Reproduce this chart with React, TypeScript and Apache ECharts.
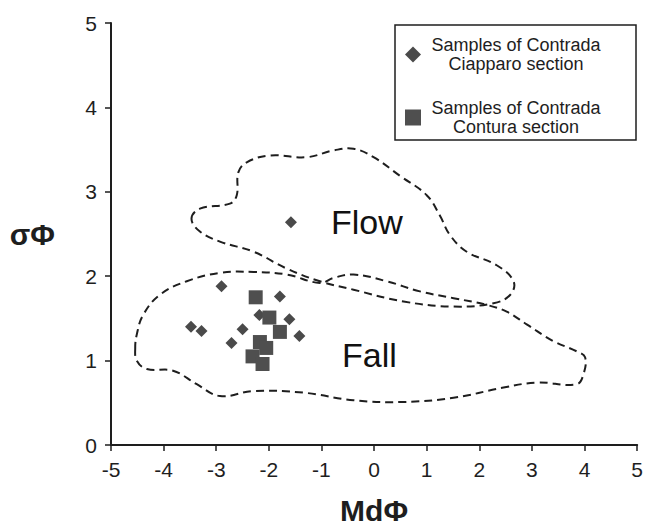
import React, { useEffect, useRef } from "react";
import * as echarts from "echarts";

// Samples of Contrada Ciapparo section (diamonds)
const ciapparoX = [-1.58, -2.9, -3.48, -3.28, -2.5, -2.71, -1.79, -2.18, -1.61, -1.42];
const ciapparoY = [2.64, 1.88, 1.4, 1.35, 1.37, 1.21, 1.76, 1.54, 1.49, 1.29];

// Samples of Contrada Contura section (squares)
const conturaX = [-2.25, -1.99, -1.79, -2.17, -2.05, -2.31, -2.12];
const conturaY = [1.75, 1.51, 1.34, 1.22, 1.15, 1.05, 0.96];

// Field boundaries (dashed outlines)
const flowBoundary: number[][] = [
  [-3.47, 2.68], [-3.31, 2.8], [-2.74, 2.86], [-2.61, 2.96], [-2.58, 3.23],
  [-2.42, 3.35], [-1.98, 3.43], [-1.28, 3.41], [-0.77, 3.49], [-0.39, 3.51],
  [-0.01, 3.41], [0.49, 3.19], [1.0, 2.96], [1.25, 2.72], [1.44, 2.49],
  [1.76, 2.29], [2.33, 2.13], [2.65, 1.94], [2.59, 1.78], [2.27, 1.68],
  [1.51, 1.64], [0.56, 1.7], [-0.39, 1.84], [-1.03, 1.94], [-1.66, 2.09],
  [-2.29, 2.29], [-2.93, 2.41], [-3.31, 2.53],
];
const fallBoundary: number[][] = [
  [-4.54, 1.15], [-4.51, 1.0], [-4.32, 0.9], [-3.82, 0.88], [-3.37, 0.72],
  [-2.93, 0.58], [-2.29, 0.64], [-1.34, 0.62], [-0.39, 0.53], [0.56, 0.51],
  [1.51, 0.56], [2.46, 0.68], [3.09, 0.74], [3.85, 0.72], [3.98, 0.84],
  [4.01, 1.04], [3.85, 1.11], [3.41, 1.23], [2.9, 1.43], [2.52, 1.58],
  [2.14, 1.66], [1.51, 1.74], [0.87, 1.82], [0.24, 1.94], [-0.39, 2.02],
  [-0.77, 1.98], [-1.03, 1.92], [-1.66, 2.02], [-2.29, 2.05], [-2.93, 2.04],
  [-3.56, 1.94], [-4.07, 1.78], [-4.39, 1.54], [-4.51, 1.31],
];

// Field labels
const fieldNames = ["Flow", "Fall"];
const fieldX = [-0.82, -0.61];
const fieldY = [2.64, 1.07];

const seriesNames = ["Ciapparo", "Contura"];
const legendLines = [
  ["Samples of Contrada", "Ciapparo section"],
  ["Samples of Contrada", "Contura section"],
];

const FONT = "'Liberation Sans', Arial, Helvetica, sans-serif";
const INK = "#1e1e1e";

function outlineSeries(name: string, pts: number[][]) {
  return {
    type: "custom",
    name,
    data: pts,
    silent: true,
    z: 1,
    renderItem: (params: any, api: any) => {
      if (params.dataIndex !== 0) return null;
      const points = pts.map((p) => api.coord(p));
      return {
        type: "polygon",
        shape: { points, smooth: 0.4 },
        style: { fill: "none", stroke: INK, lineWidth: 2, lineDash: [8, 5] },
      };
    },
  };
}

export default function App() {
  const ref = useRef<HTMLDivElement>(null);
  useEffect(() => {
    document.body.style.margin = "0";
    const chart = echarts.init(ref.current!, undefined, { renderer: "svg" });
    chart.setOption({
      animation: false,
      backgroundColor: "#ffffff",
      textStyle: { fontFamily: FONT },
      grid: { left: 111, right: 8, top: 23, bottom: 82 },
      xAxis: {
        type: "value",
        min: -5,
        max: 5,
        interval: 1,
        name: "MdΦ",
        nameLocation: "middle",
        nameGap: 50,
        nameTextStyle: { fontFamily: FONT, fontSize: 30, fontWeight: "bold", color: INK },
        axisLine: { onZero: false, lineStyle: { color: INK, width: 2 } },
        axisTick: { show: true, length: 6, lineStyle: { color: INK, width: 1.5 } },
        axisLabel: { fontSize: 21, color: INK, margin: 14, fontFamily: FONT },
        splitLine: { show: false },
      },
      yAxis: {
        type: "value",
        min: 0,
        max: 5,
        interval: 1,
        name: "σΦ",
        nameLocation: "middle",
        nameRotate: 0,
        nameGap: 56,
        nameTextStyle: { fontFamily: FONT, fontSize: 30, fontWeight: "bold", color: INK },
        axisLine: { show: true, onZero: false, lineStyle: { color: INK, width: 2 } },
        axisTick: { show: true, length: 6, lineStyle: { color: INK, width: 1.5 } },
        axisLabel: { fontSize: 21, color: INK, margin: 14, fontFamily: FONT },
        splitLine: { show: false },
      },
      legend: {
        data: seriesNames,
        orient: "vertical",
        left: 395,
        top: 25,
        padding: [11, 30, 4, 10],
        itemGap: 26,
        itemWidth: 16,
        itemHeight: 16,
        borderColor: INK,
        borderWidth: 1.5,
        formatter: (name: string) => {
          const i = seriesNames.indexOf(name);
          return legendLines[i].map((l) => `{c|${l}}`).join("\n");
        },
        textStyle: {
          rich: {
            c: {
              fontFamily: FONT,
              fontSize: 18,
              lineHeight: 19,
              width: 180,
              align: "center",
              color: INK,
            },
          },
        },
      },
      series: [
        outlineSeries("flowField", flowBoundary),
        outlineSeries("fallField", fallBoundary),
        {
          type: "scatter",
          name: seriesNames[0],
          symbol: "diamond",
          symbolSize: 12,
          itemStyle: { color: "#4a4a4a", opacity: 1 },
          z: 3,
          data: ciapparoX.map((x, i) => [x, ciapparoY[i]]),
        },
        {
          type: "scatter",
          name: seriesNames[1],
          symbol: "rect",
          symbolSize: 14,
          itemStyle: { color: "#4f4f4f", opacity: 1 },
          z: 4,
          data: conturaX.map((x, i) => [x, conturaY[i]]),
        },
        {
          type: "scatter",
          name: "fields",
          symbolSize: 0,
          silent: true,
          z: 5,
          itemStyle: { opacity: 1, color: "#111" },
          data: fieldNames.map((n, i) => ({ name: n, value: [fieldX[i], fieldY[i]] })),
          label: {
            show: true,
            position: "right",
            distance: 0,
            formatter: "{b}",
            fontSize: 34,
            fontFamily: FONT,
            color: "#111",
            opacity: 1,
            textBorderWidth: 0,
          },
        },
      ],
    });
    return () => chart.dispose();
  }, []);
  return <div ref={ref} style={{ width: 646, height: 530 }} />;
}
